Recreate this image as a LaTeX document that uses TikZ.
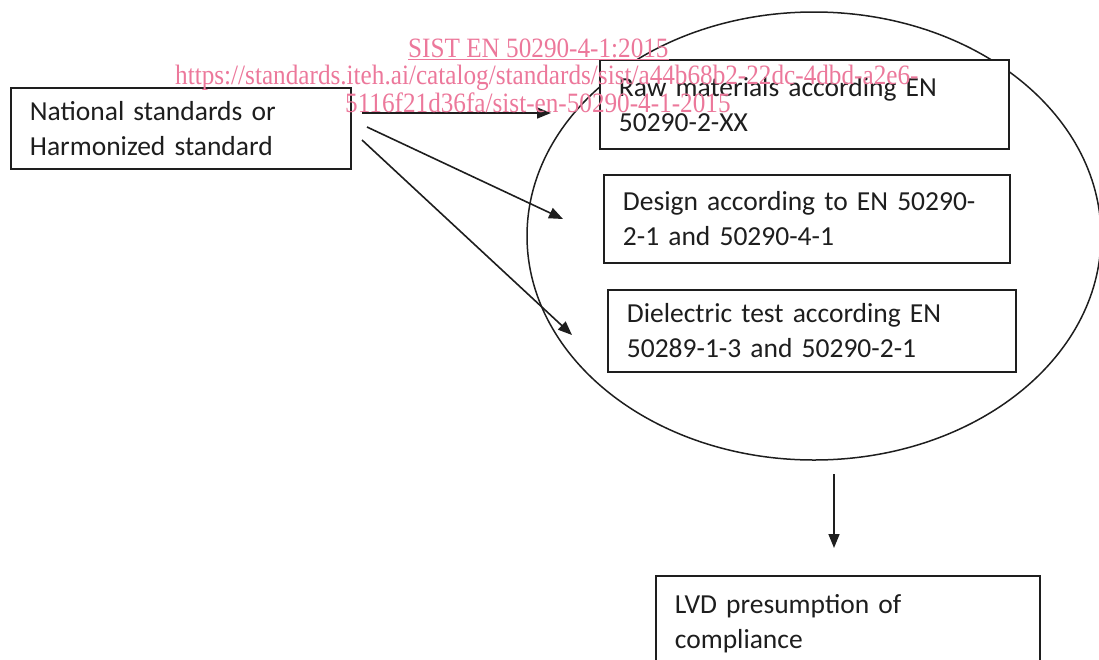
\documentclass[tikz,border=0pt]{standalone}
\usepackage{fontspec}
\setmainfont{Carlito}
\newfontfamily\wmfont{Liberation Serif}
\usetikzlibrary{arrows.meta,shapes.geometric}
\definecolor{ink}{RGB}{30,30,30}
\definecolor{wm}{RGB}{236,120,155}
\begin{document}
\begin{tikzpicture}[x=1pt,y=-1pt,
  box/.style={draw=ink, fill=white, line width=1.8pt, rectangle, anchor=north west,
    inner xsep=19pt, inner ysep=0pt, align=left, text=ink,
    font=\fontsize{27.5}{35}\selectfont},
  conn/.style={draw=ink, line width=1.6pt, -{Triangle[length=14pt,width=11pt]}},
  wmtext/.style={text=wm, font=\wmfont\fontsize{28}{28}\selectfont, inner sep=0pt, anchor=base west}]
\useasboundingbox (0,0) rectangle (1099,659);

\node[draw=ink, line width=1.5pt, ellipse, minimum width=574pt, minimum height=448pt] (grp) at (814,236) {};

\node[box, text width=302pt, minimum height=81pt] (nat) at (10,87)
  {National standards or\\Harmonized standard};
\node[box, text width=371pt, minimum height=89pt] (raw) at (599,59)
  {Raw materials according EN\\50290-2-XX};
\node[box, text width=368pt, minimum height=88pt] (des) at (603,174)
  {Design according to EN 50290-\\2-1 and 50290-4-1};
\node[box, text width=370pt, minimum height=82pt] (die) at (607,289)
  {Dielectric test according EN\\50289-1-3 and 50290-2-1};
\node[box, text width=346pt, minimum height=96pt] (lvd) at (655,575)
  {LVD presumption of\\compliance};

\coordinate (s1) at (362,113);
\coordinate (e1) at (551,113);
\coordinate (s2) at (367,127);
\coordinate (e2) at (563,219);
\coordinate (s3) at (362,140);
\coordinate (e3) at (572,335);
\coordinate (s4) at (834,474);
\coordinate (e4) at (834,548);
\draw[conn] (s1) -- (e1);
\draw[conn] (s2) -- (e2);
\draw[conn] (s3) -- (e3);
\draw[conn] (s4) -- (e4);

\node[wmtext] (wm1) at (408,57) {\scalebox{0.9}[1]{\underline{SIST EN 50290-4-1:2015}}};
\node[wmtext] (wm2) at (175,84) {\scalebox{0.9}[1]{https://standards.iteh.ai/catalog/standards/sist/a44b68b2-22dc-4dbd-a2e6-}};
\node[wmtext] (wm3) at (345,112) {\scalebox{0.9}[1]{5116f21d36fa/sist-en-50290-4-1-2015}};
\end{tikzpicture}
\end{document}
